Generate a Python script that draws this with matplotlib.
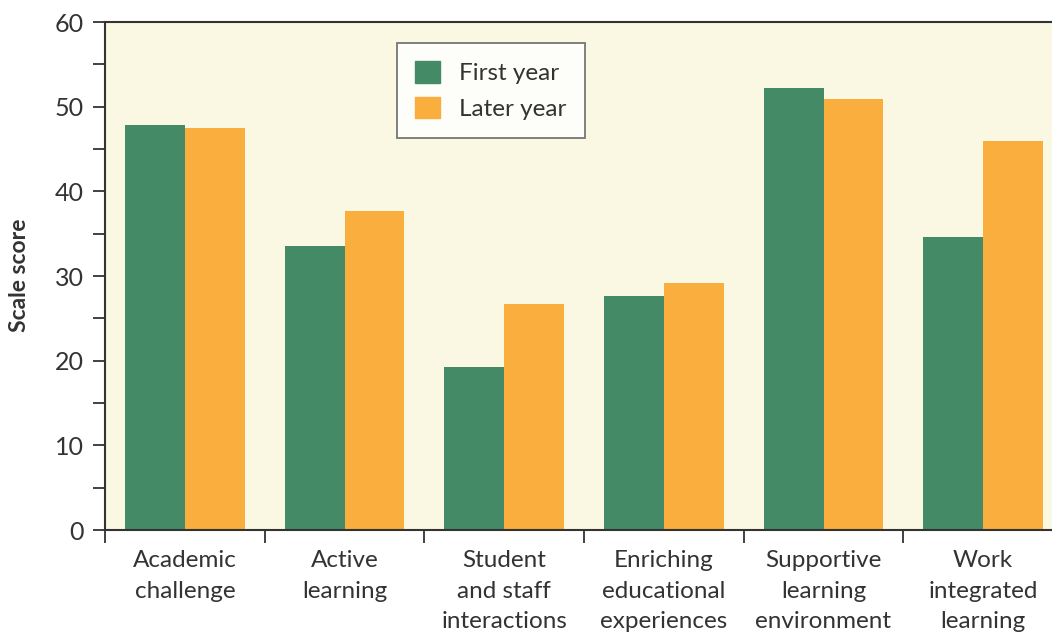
import numpy as np
import matplotlib.pyplot as plt
from matplotlib.patches import Patch

categories = ["Academic\nchallenge", "Active\nlearning", "Student\nand staff\ninteractions",
              "Enriching\neducational\nexperiences", "Supportive\nlearning\nenvironment",
              "Work\nintegrated\nlearning"]
first_year = [47.8, 33.5, 19.2, 27.6, 52.2, 34.6]
later_year = [47.5, 37.7, 26.7, 29.2, 50.9, 45.9]

green = "#448a66"
orange = "#f9ae3d"
dark = "#333333"

plt.rcParams['font.family'] = ['Lato', 'DejaVu Sans']

fig = plt.figure(figsize=(10.52, 6.37), dpi=100)
ax = fig.add_axes([105 / 1052, 1 - 530 / 637, 958 / 1052, 508 / 637])
ax.set_facecolor("#faf7e3")

ind = np.arange(len(categories))
width = 0.375
ax.bar(ind + 0.5 - width / 2, first_year, width, color=green)
ax.bar(ind + 0.5 + width / 2, later_year, width, color=orange)

ax.set_xlim(0, 6)
ax.set_ylim(0, 60)
ax.set_xticks(np.arange(7))
ax.set_xticklabels([])
yt = np.arange(0, 61, 5)
ax.set_yticks(yt)
ax.set_yticklabels([str(v) if v % 10 == 0 else "" for v in yt])
ax.tick_params(axis='both', length=9, width=1.3, color=dark, labelcolor=dark, labelsize=18)
ax.tick_params(axis='y', pad=6)

for i, lab in enumerate(categories):
    ax.text(i + 0.5, -2.4, lab, ha='center', va='top', fontsize=17.5, color=dark,
            linespacing=1.55)

for s in ax.spines.values():
    s.set_color(dark)
    s.set_linewidth(1.5)

fig.text(20 / 1052, 1 - 275 / 637, "Scale score", rotation=90, ha='center', va='center',
         fontsize=16.5, color=dark, fontweight='bold')

handles = [Patch(color=green), Patch(color=orange)]
leg = ax.legend(handles, ["First year", "Later year"], loc='upper left',
                bbox_to_anchor=(292 / 958, 1 - 21 / 508), fontsize=17.5,
                frameon=True, fancybox=False, edgecolor="#555555",
                handlelength=1.0, handleheight=1.0, labelspacing=0.5,
                borderpad=0.75, handletextpad=0.8, borderaxespad=0)
leg.get_frame().set_linewidth(1.3)
for t in leg.get_texts():
    t.set_color(dark)

plt.savefig("out.png", dpi=100)
